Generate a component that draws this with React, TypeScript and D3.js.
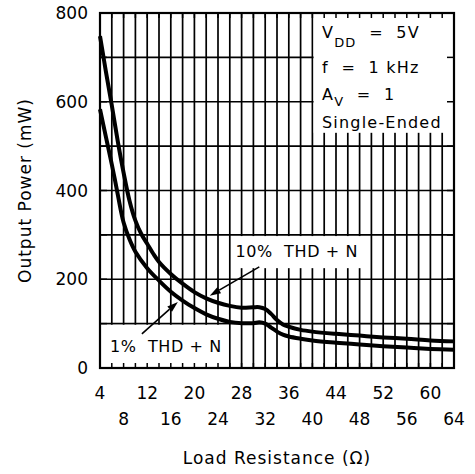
import React from "react";
import * as d3 from "d3";

const resistance10 = [4, 4.5, 5, 6, 7, 8, 9, 10, 11, 12, 13, 14, 16, 18, 20, 22, 24, 26, 28, 30, 31, 32, 33, 34, 35, 36, 38, 40, 44, 48, 52, 56, 60, 64];
const power10 = [748, 708, 668, 592, 512, 440, 377, 332, 302, 280, 258, 239, 212, 190, 171, 157, 147, 140, 136, 137, 137, 133, 122, 108, 98, 93, 86, 82, 77, 73, 69, 66, 62, 60];

const resistance1 = [4, 5, 6, 6.5, 7, 7.5, 8, 9, 10, 12, 14, 16, 18, 20, 22, 24, 26, 28, 30, 31, 32, 33, 34, 35, 36, 38, 40, 44, 48, 52, 56, 60, 64];
const power1 = [583, 521, 459, 426, 392, 357, 328, 290, 262, 225, 197, 172, 152, 135, 121, 111, 104, 101, 101, 103, 100, 91, 82, 75, 71, 66, 62, 57, 53, 49, 46, 43, 41];

const xTicksTop = [4, 12, 20, 28, 36, 44, 52, 60];
const xTicksBottom = [8, 16, 24, 32, 40, 48, 56, 64];
const yTicks = [0, 200, 400, 600, 800];

const W = 475, H = 474;
const left = 100, right = 454, top = 13, bottom = 368;

export default function App() {
  const x = d3.scaleLinear().domain([4, 64]).range([left, right]);
  const y = d3.scaleLinear().domain([0, 800]).range([bottom, top]);
  const line = d3.line<[number, number]>().x(d => x(d[0])).y(d => y(d[1])).curve(d3.curveCatmullRom.alpha(0.5));
  const d10 = line(resistance10.map((r, i) => [r, power10[i]]))!;
  const d1 = line(resistance1.map((r, i) => [r, power1[i]]))!;
  const vGrid = d3.range(6, 64, 2);
  const hGrid = d3.range(100, 800, 100);
  const font = "'DejaVu Sans', sans-serif";

  const arrow = (x1: number, y1: number, x2: number, y2: number, key: string) => {
    const px1 = x(x1), py1 = y(y1), px2 = x(x2), py2 = y(y2);
    const ang = Math.atan2(py2 - py1, px2 - px1);
    const L = 11, Wd = 3.5;
    const bx = px2 - L * Math.cos(ang), by = py2 - L * Math.sin(ang);
    const p1 = [bx + Wd * Math.sin(ang), by - Wd * Math.cos(ang)];
    const p2 = [bx - Wd * Math.sin(ang), by + Wd * Math.cos(ang)];
    return (
      <g key={key}>
        <line x1={px1} y1={py1} x2={bx} y2={by} stroke="#000" strokeWidth={1.6} />
        <polygon points={`${px2},${py2} ${p1[0]},${p1[1]} ${p2[0]},${p2[1]}`} fill="#000" />
      </g>
    );
  };

  const tickLen = 5;
  return (
    <svg width={W} height={H} style={{ position: "absolute", left: 0, top: 0, background: "#fff" }} fontFamily={font}>
      <rect x={0} y={0} width={W} height={H} fill="#fff" />
      {vGrid.map(v => (
        <line key={"v" + v} x1={x(v)} x2={x(v)} y1={top} y2={bottom} stroke="#000" strokeWidth={1.7} />
      ))}
      {hGrid.map(v => (
        <line key={"h" + v} x1={left} x2={right} y1={y(v)} y2={y(v)} stroke="#000" strokeWidth={1.7} />
      ))}
      <rect x={x(40) + 1.2} y={top} width={right - x(40) - 1.2} height={y(530) - top} fill="#fff" />
      <rect x={x(26) + 1.2} y={y(300) + 1.2} width={x(48) + 1.5 - x(26) - 1.2} height={y(225) - y(300) - 1.2} fill="#fff" />
      <rect x={left} y={y(100) + 1.2} width={x(26) - 1.2 - left} height={bottom - y(100) - 1.2} fill="#fff" />
      {vGrid.map(v => (
        <g key={"tv" + v}>
          <line x1={x(v)} x2={x(v)} y1={top} y2={top + tickLen} stroke="#000" strokeWidth={1.5} />
          <line x1={x(v)} x2={x(v)} y1={bottom} y2={bottom - tickLen} stroke="#000" strokeWidth={1.5} />
        </g>
      ))}
      {hGrid.map(v => (
        <g key={"th" + v}>
          <line x1={right} x2={right - 7} y1={y(v)} y2={y(v)} stroke="#000" strokeWidth={1.5} />
          <line x1={left} x2={left + 7} y1={y(v)} y2={y(v)} stroke="#000" strokeWidth={1.5} />
        </g>
      ))}
      <path d={d10} fill="none" stroke="#000" strokeWidth={4} strokeLinejoin="round" />
      <path d={d1} fill="none" stroke="#000" strokeWidth={4} strokeLinejoin="round" />
      <rect x={left} y={top} width={right - left} height={bottom - top} fill="none" stroke="#000" strokeWidth={2.2} />
      {arrow(31.0, 228, 22.6, 163, "a10")}
      {arrow(11.1, 77, 17.2, 149, "a1")}
      <text xmlSpace="preserve" x={(x(26) + x(48)) / 2 + 2} y={y(262)} fontSize={16} textAnchor="middle" dominantBaseline="central" letterSpacing={0.6}>{"10%  THD + N"}</text>
      <text xmlSpace="preserve" x={(left + x(26)) / 2 + 1} y={y(48)} fontSize={16} textAnchor="middle" dominantBaseline="central" letterSpacing={0.6}>{"1%  THD + N"}</text>
      <g fontSize={16} letterSpacing={1.2}>
        <text xmlSpace="preserve" x={322} y={38}>V<tspan fontSize={13} dy={9}>DD</tspan><tspan dy={-9}>{"  =  5V"}</tspan></text>
        <text xmlSpace="preserve" x={322} y={72.5}>{"f  =  1 kHz"}</text>
        <text xmlSpace="preserve" x={322} y={99.5}>A<tspan fontSize={13} dy={6}>V</tspan><tspan dy={-6}>{"  =  1"}</tspan></text>
        <text x={322} y={127.5}>Single-Ended</text>
      </g>
      {yTicks.map(v => (
        <text key={"yl" + v} x={88} y={y(v)} fontSize={17} textAnchor="end" dominantBaseline="central">{v}</text>
      ))}
      {xTicksTop.map(v => (
        <text key={"xt" + v} x={x(v)} y={393} fontSize={17} textAnchor="middle" dominantBaseline="central">{v}</text>
      ))}
      {xTicksBottom.map(v => (
        <text key={"xb" + v} x={x(v)} y={419} fontSize={17} textAnchor="middle" dominantBaseline="central">{v}</text>
      ))}
      <text x={277} y={458} fontSize={17} textAnchor="middle" dominantBaseline="central" letterSpacing={1}>Load Resistance (Ω)</text>
      <text transform={`translate(25,${(top + bottom) / 2}) rotate(-90)`} fontSize={17} textAnchor="middle" dominantBaseline="central" letterSpacing={1}>Output Power (mW)</text>
    </svg>
  );
}
